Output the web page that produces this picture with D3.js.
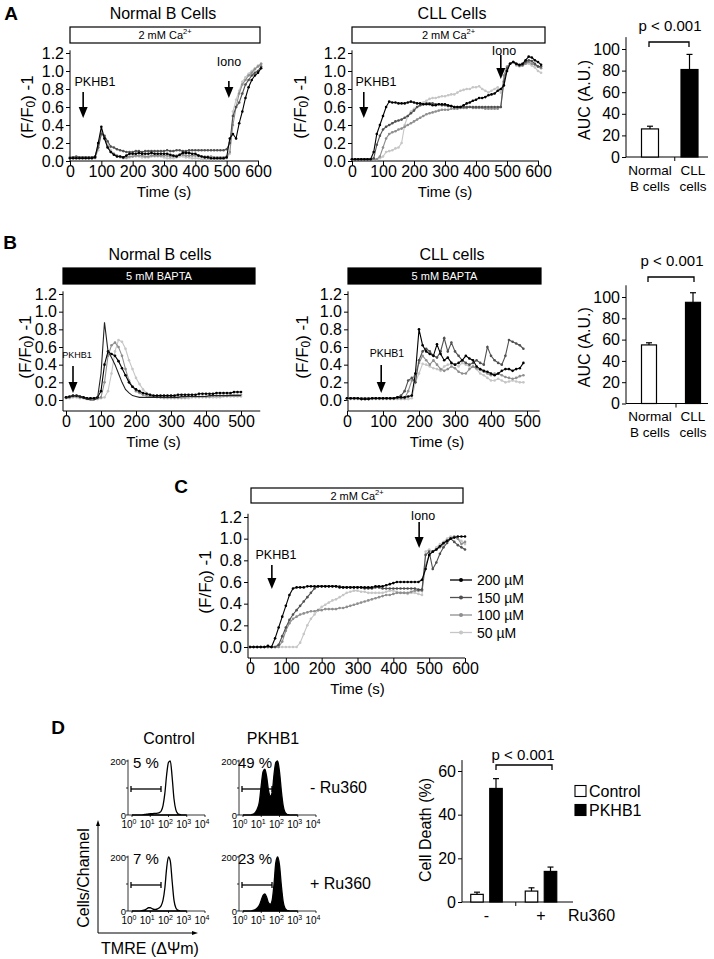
<!DOCTYPE html>
<html><head><meta charset="utf-8">
<script src="https://d3js.org/d3.v7.min.js"></script>
<style>html,body{margin:0;padding:0;background:#fff;}</style>
</head><body>
<svg id="fig" width="714" height="959" xmlns="http://www.w3.org/2000/svg"></svg>
<script>
// ================= DATA =================
const yTicksTrace = [0, 0.2, 0.4, 0.6, 0.8, 1.0, 1.2];
const xTicksA = [0, 100, 200, 300, 400, 500, 600];
const xTicksB = [0, 100, 200, 300, 400, 500];
const xTicksC = [0, 100, 200, 300, 400, 500, 600];
const aucTicks = [0, 20, 40, 60, 80, 100];
const deathTicks = [0, 20, 40, 60];

const timeA = [0,10,20,30,40,50,60,70,80,90,100,110,120,130,140,150,160,170,180,190,200,210,220,230,240,250,260,270,280,290,300,310,320,330,340,350,360,370,380,390,400,410,420,430,440,450,460,470,480,490,500,510,520,530,540,550,560,570,580,590,600,610];
const timeB = [0,10,20,30,40,50,60,70,80,90,100,110,120,130,140,150,160,170,180,190,200,210,220,230,240,250,260,270,280,290,300,310,320,330,340,350,360,370,380,390,400,410,420,430,440,450,460,470,480,490,500];
const timeC = [0,10,20,30,40,50,60,70,80,90,100,110,120,130,140,150,160,170,180,190,200,210,220,230,240,250,260,270,280,290,300,310,320,330,340,350,360,370,380,390,400,410,420,430,440,450,460,470,480,490,500,510,520,530,540,550,560,570,580,590,600];

// Panel A – Normal B cells, 2 mM Ca2+
const normalA1 = [0.03,0.03,0.03,0.03,0.03,0.03,0.03,0.03,0.04,
  0.20,0.38,0.25,0.15,0.10,0.07,0.05,0.05,0.04,0.06,
  0.08,0.08,0.08,0.09,0.08,0.08,0.08,0.09,0.08,0.08,
  0.08,0.08,0.08,0.07,0.06,0.05,0.07,0.09,0.09,0.09,
  0.08,0.08,0.06,0.05,0.04,0.04,0.03,0.03,0.03,0.03,
  0.03,0.04,0.25,0.30,0.25,0.42,0.55,0.70,0.82,0.90,
  0.95,0.98,1.03];
const normalA2 = [0.04,0.04,0.05,0.04,0.04,0.04,0.04,0.04,0.05,
  0.15,0.30,0.28,0.22,0.16,0.15,0.13,0.12,0.11,0.10,
  0.10,0.10,0.11,0.11,0.10,0.11,0.11,0.11,0.11,0.11,
  0.11,0.11,0.12,0.11,0.11,0.12,0.12,0.11,0.11,0.12,
  0.12,0.12,0.12,0.12,0.12,0.12,0.12,0.12,0.12,0.12,
  0.12,0.13,0.20,0.50,0.60,0.65,0.75,0.85,0.90,0.95,
  0.98,1.00,1.05];
const normalA3 = [0.04,0.04,0.04,0.04,0.04,0.04,0.04,0.04,0.05,
  0.18,0.33,0.25,0.16,0.10,0.08,0.06,0.05,0.04,0.04,
  0.05,0.05,0.06,0.06,0.06,0.05,0.05,0.06,0.06,0.06,
  0.06,0.06,0.06,0.05,0.05,0.06,0.07,0.07,0.06,0.06,
  0.06,0.06,0.06,0.05,0.05,0.05,0.05,0.04,0.04,0.04,
  0.04,0.05,0.10,0.40,0.60,0.75,0.85,0.90,0.95,0.98,
  1.02,1.05,1.08];
const normalA4 = [0.03,0.03,0.03,0.03,0.03,0.03,0.03,0.03,0.03,
  0.12,0.30,0.28,0.18,0.12,0.08,0.05,0.04,0.03,0.03,
  0.04,0.05,0.05,0.05,0.04,0.04,0.04,0.05,0.05,0.05,
  0.05,0.04,0.03,0.03,0.03,0.04,0.05,0.05,0.04,0.04,
  0.03,0.03,0.03,0.02,0.02,0.02,0.02,0.02,0.02,0.02,
  0.02,0.03,0.08,0.55,0.68,0.78,0.88,0.93,0.97,1.00,
  1.03,1.06,1.08];

// Panel A – CLL cells, 2 mM Ca2+
const cllA1 = [0.02,0.02,0.02,0.02,0.02,0.02,0.02,
  0.10,0.30,0.40,0.50,0.60,0.66,0.65,0.65,0.64,0.64,
  0.64,0.65,0.66,0.65,0.64,0.64,0.63,0.63,0.63,0.62,
  0.62,0.63,0.63,0.63,0.62,0.61,0.60,0.60,0.60,0.62,
  0.64,0.65,0.67,0.68,0.70,0.70,0.71,0.73,0.74,0.75,
  0.78,0.80,0.84,1.00,1.08,1.10,1.08,1.07,1.08,1.12,
  1.16,1.15,1.12,1.10,1.07];
const cllA2 = [0.02,0.02,0.02,0.02,0.02,0.02,0.02,
  0.03,0.18,0.28,0.35,0.38,0.40,0.42,0.44,0.45,0.46,
  0.48,0.50,0.53,0.56,0.60,0.62,0.63,0.64,0.64,0.64,
  0.63,0.63,0.62,0.62,0.61,0.61,0.60,0.60,0.60,0.60,
  0.60,0.60,0.60,0.60,0.60,0.60,0.60,0.60,0.60,0.60,
  0.60,0.60,0.88,1.03,1.08,1.10,1.08,1.06,1.07,1.10,
  1.12,1.11,1.08,1.05,1.05];
const cllA3 = [0.02,0.02,0.02,0.02,0.02,0.02,0.02,
  0.02,0.02,0.05,0.15,0.25,0.30,0.32,0.33,0.35,0.36,
  0.38,0.40,0.42,0.44,0.46,0.48,0.50,0.52,0.53,0.54,
  0.55,0.56,0.57,0.57,0.57,0.58,0.58,0.58,0.59,0.59,
  0.59,0.60,0.59,0.59,0.59,0.59,0.58,0.58,0.58,0.58,
  0.58,0.60,0.95,1.05,1.08,1.10,1.07,1.06,1.06,1.08,
  1.10,1.08,1.07,1.05,1.03];
const cllA4 = [0.02,0.02,0.02,0.02,0.02,0.02,0.02,
  0.02,0.02,0.03,0.05,0.10,0.11,0.12,0.14,0.15,0.20,
  0.40,0.50,0.55,0.58,0.60,0.62,0.65,0.67,0.69,0.70,
  0.70,0.71,0.72,0.72,0.73,0.74,0.74,0.76,0.78,0.79,
  0.80,0.80,0.82,0.82,0.83,0.80,0.78,0.76,0.78,0.80,
  0.82,0.76,0.90,1.00,1.08,1.10,1.06,1.05,1.06,1.08,
  1.08,1.06,1.04,1.00,0.98];

// Panel A – AUC
const aucCats = ["Normal B cells", "CLL cells"];
const aucA = [26, 81];
const aucAErr = [2.5, 14];

// Panel B – Normal B cells, 5 mM BAPTA
const normalB1 = [0.02,0.03,0.05,0.05,0.04,0.02,0.01,0.00,0.00,0.02,
  0.30,0.88,0.55,0.48,0.40,0.30,0.20,0.12,0.08,0.05,
  0.04,0.03,0.03,0.03,0.03,0.03,0.03,0.03,0.03,0.03,
  0.03,0.03,0.03,0.04,0.04,0.04,0.04,0.04,0.04,0.04,
  0.04,0.05,0.05,0.05,0.05,0.05,0.05,0.05,0.05,0.05,0.05];
const normalB2 = [0.03,0.04,0.05,0.05,0.04,0.03,0.02,0.02,0.02,0.03,
  0.10,0.40,0.55,0.52,0.50,0.44,0.36,0.28,0.20,0.15,
  0.12,0.10,0.08,0.07,0.06,0.05,0.05,0.05,0.05,0.05,
  0.05,0.05,0.06,0.06,0.06,0.06,0.06,0.06,0.07,0.07,
  0.07,0.07,0.07,0.08,0.08,0.08,0.08,0.08,0.09,0.09,0.09];
const normalB3 = [0.03,0.03,0.04,0.04,0.03,0.03,0.02,0.02,0.02,0.02,
  0.03,0.20,0.50,0.62,0.65,0.60,0.50,0.35,0.22,0.15,
  0.10,0.08,0.06,0.05,0.04,0.04,0.04,0.03,0.03,0.03,
  0.03,0.03,0.03,0.03,0.03,0.04,0.04,0.04,0.04,0.04,
  0.04,0.04,0.05,0.05,0.05,0.05,0.05,0.06,0.06,0.06,0.06];
const normalB4 = [0.02,0.02,0.03,0.03,0.02,0.02,0.01,0.01,0.01,0.01,
  0.02,0.03,0.10,0.30,0.55,0.68,0.66,0.58,0.45,0.35,
  0.25,0.18,0.12,0.08,0.06,0.04,0.03,0.03,0.02,0.02,
  0.02,0.02,0.02,0.02,0.02,0.02,0.03,0.03,0.03,0.03,
  0.03,0.03,0.03,0.03,0.03,0.04,0.04,0.04,0.04,0.04,0.04];

// Panel B – CLL cells, 5 mM BAPTA
const cllB1 = [0.02,0.02,0.02,0.02,0.01,0.01,0.01,0.02,0.02,0.02,
  0.02,0.02,0.02,0.02,0.03,0.03,0.03,0.04,0.05,0.30,
  0.80,0.62,0.55,0.52,0.50,0.63,0.52,0.45,0.48,0.42,
  0.40,0.42,0.45,0.50,0.47,0.45,0.38,0.35,0.33,0.32,
  0.30,0.28,0.30,0.33,0.35,0.35,0.33,0.35,0.36,0.42];
const cllB2 = [0.02,0.02,0.02,0.02,0.02,0.02,0.02,0.02,0.02,0.02,
  0.02,0.02,0.02,0.02,0.03,0.05,0.10,0.22,0.25,0.20,
  0.45,0.55,0.58,0.55,0.50,0.48,0.55,0.70,0.55,0.65,
  0.55,0.50,0.45,0.42,0.40,0.42,0.45,0.42,0.40,0.60,
  0.50,0.45,0.42,0.40,0.50,0.68,0.66,0.64,0.62,0.58];
const cllB3 = [0.02,0.02,0.02,0.02,0.02,0.02,0.02,0.02,0.02,0.02,
  0.02,0.02,0.02,0.02,0.02,0.02,0.02,0.10,0.22,0.30,
  0.42,0.50,0.45,0.40,0.45,0.40,0.35,0.33,0.35,0.38,
  0.36,0.32,0.30,0.30,0.35,0.38,0.36,0.34,0.32,0.30,
  0.28,0.30,0.30,0.28,0.26,0.25,0.24,0.25,0.27,0.28];
const cllB4 = [0.01,0.01,0.01,0.01,0.01,0.01,0.01,0.01,0.01,0.01,
  0.01,0.01,0.01,0.01,0.01,0.01,0.01,0.01,0.02,0.20,
  0.30,0.41,0.40,0.38,0.36,0.35,0.33,0.38,0.40,0.41,
  0.40,0.38,0.42,0.40,0.38,0.38,0.35,0.30,0.28,0.25,
  0.22,0.22,0.24,0.22,0.20,0.21,0.22,0.21,0.20,0.20];

// Panel B – AUC
const aucB = [55, 95];
const aucBErr = [2, 9];

// Panel C – dose response, 2 mM Ca2+
const doseLabels = ["200 µM", "150 µM", "100 µM", "50 µM"];
const dose200 = [0.00,0.00,0.00,0.00,0.00,0.01,0.00,0.08,0.18,0.28,
  0.38,0.48,0.54,0.55,0.55,0.55,0.56,0.56,0.56,0.56,
  0.56,0.56,0.56,0.56,0.56,0.55,0.55,0.55,0.55,0.55,
  0.55,0.55,0.55,0.55,0.55,0.56,0.56,0.56,0.57,0.58,
  0.59,0.60,0.60,0.60,0.60,0.60,0.60,0.60,0.62,0.72,
  0.85,0.88,0.90,0.93,0.96,0.98,1.00,1.01,1.02,1.02,1.02];
const dose150 = [0.00,0.00,0.00,0.00,0.00,0.00,0.00,0.00,0.02,0.10,
  0.18,0.25,0.30,0.34,0.38,0.42,0.46,0.50,0.54,0.56,
  0.56,0.56,0.56,0.56,0.56,0.56,0.55,0.55,0.55,0.55,
  0.55,0.55,0.54,0.54,0.54,0.55,0.55,0.54,0.54,0.54,
  0.54,0.54,0.54,0.54,0.54,0.54,0.54,0.53,0.53,0.85,
  0.88,0.72,0.78,0.86,0.92,0.96,1.00,0.97,0.94,0.92,0.90];
const dose100 = [0.00,0.00,0.00,0.00,0.00,0.00,0.00,0.00,0.00,0.05,
  0.15,0.22,0.26,0.28,0.30,0.31,0.32,0.33,0.33,0.34,
  0.34,0.35,0.35,0.35,0.35,0.36,0.36,0.37,0.38,0.39,
  0.40,0.41,0.42,0.43,0.44,0.45,0.46,0.47,0.48,0.48,
  0.49,0.50,0.50,0.50,0.50,0.51,0.52,0.52,0.52,0.75,
  0.85,0.88,0.90,0.92,0.95,0.98,1.00,1.02,1.00,0.95,0.97];
const dose50 = [0.00,0.00,0.00,0.00,0.00,0.00,0.00,0.00,0.00,0.00,
  0.00,0.00,0.00,0.00,0.04,0.12,0.20,0.26,0.30,0.34,
  0.37,0.39,0.41,0.43,0.44,0.46,0.48,0.50,0.51,0.52,
  0.52,0.51,0.51,0.50,0.50,0.50,0.50,0.50,0.51,0.52,
  0.52,0.51,0.50,0.50,0.49,0.50,0.50,0.49,0.48,0.88,
  0.90,0.88,0.92,0.95,0.97,1.00,1.02,1.02,1.00,0.98,0.95];

// Panel D – TMRE histograms (log10 fluorescence, counts)
const logTMRE = [0.0,0.1,0.2,0.3,0.4,0.5,0.6,0.7,0.8,0.9,1.0,1.1,1.2,1.3,1.4,1.5,1.6,1.7,1.8,1.9,2.0,2.1,2.2,2.3,2.4,2.5,2.6,2.7,2.8,2.9,3.0];
const histCtrlNoRu = [0,0,0,0,0,0,1,2,3,4,5,5,6,6,7,9,15,35,80,150,195,200,140,60,20,6,2,0,0,0,0];
const histPkNoRu   = [0,0,0,0,0,2,5,12,25,50,110,160,170,140,90,70,85,150,195,200,160,90,35,10,3,1,0,0,0,0,0];
const histCtrlRu   = [0,0,0,0,0,1,2,4,8,12,12,9,6,6,8,12,20,40,85,160,200,185,110,40,12,4,1,0,0,0,0];
const histPkRu     = [0,0,0,0,0,1,3,6,12,22,40,58,63,50,30,25,40,100,180,200,170,95,35,10,3,1,0,0,0,0,0];
const pctLabels = ["5 %", "49 %", "7 %", "23 %"];
const logTicks = [0, 1, 2, 3, 4];

// Panel D – cell death
const ruGroups = ["-", "+"];
const deathControl = [3.5, 5];
const deathControlErr = [1, 1.5];
const deathPKHB1 = [52, 14];
const deathPKHB1Err = [4.5, 2];

// ================= DRAWING =================
const FONT = "'Liberation Sans', Arial, Helvetica, sans-serif";
const svg = d3.select("#fig").attr("font-family", FONT);
const traceColors = ["#000000", "#505050", "#8e8e8e", "#c6c6c6"];

function text(g, x, y, s, size, anchor = "middle", extra = {}) {
  const t = g.append("text").attr("x", x).attr("y", y).attr("font-size", size)
    .attr("text-anchor", anchor).attr("dominant-baseline", "central").attr("fill", extra.fill || "#000")
    .text(s);
  if (extra.weight) t.attr("font-weight", extra.weight);
  if (extra.rotate) t.attr("transform", `rotate(-90,${x},${y})`);
  return t;
}
function yLabelF(g, x, y, size) {
  const t = g.append("text").attr("font-size", size).attr("text-anchor", "middle")
    .attr("transform", `translate(${x},${y}) rotate(-90)`).attr("dominant-baseline", "central");
  t.append("tspan").text("(F/F");
  t.append("tspan").attr("font-size", size * 0.7).attr("dy", 4).text("0");
  t.append("tspan").attr("dy", -4).text(") -1");
}
function arrow(g, x, y1, y2) {
  g.append("line").attr("x1", x).attr("x2", x).attr("y1", y1).attr("y2", y2 - 8)
    .attr("stroke", "#000").attr("stroke-width", 1.6);
  g.append("path").attr("d", `M${x - 4.5},${y2 - 11} L${x + 4.5},${y2 - 11} L${x},${y2} Z`).attr("fill", "#000");
}
function header(g, x1, x2, y1, y2, dark, label, sup) {
  g.append("rect").attr("x", x1).attr("y", y1).attr("width", x2 - x1).attr("height", y2 - y1)
    .attr("fill", dark ? "#000" : "#fff").attr("stroke", "#000").attr("stroke-width", 1.2);
  const t = g.append("text").attr("x", (x1 + x2) / 2).attr("y", (y1 + y2) / 2 + 4).attr("font-size", 11)
    .attr("text-anchor", "middle").attr("fill", dark ? "#fff" : "#000");
  t.append("tspan").text(label);
  if (sup) t.append("tspan").attr("font-size", 7.5).attr("dy", -5).text(sup);
}

function tracePanel(o) {
  const g = svg.append("g");
  const x = d3.scaleLinear().domain([0, o.xmax]).range([o.x0, o.x1]);
  const y = d3.scaleLinear().domain([0, 1.2]).range([o.yBot, o.yTop]);
  const ya = g.append("g").attr("transform", `translate(${o.yAxisX},0)`)
    .call(d3.axisLeft(y).tickValues(yTicksTrace).tickFormat(d3.format(".1f")).tickSize(4).tickPadding(2));
  ya.select(".domain").remove();
  ya.attr("font-family", FONT).attr("font-size", 16);
  g.append("line").attr("x1", o.yAxisX).attr("x2", o.yAxisX).attr("y1", o.axisY).attr("y2", y(1.23)).attr("stroke", "#000");
  const xa = g.append("g").attr("transform", `translate(0,${o.axisY})`)
    .call(d3.axisBottom(x).tickValues(o.xTicks).tickSize(4).tickPadding(1));
  xa.select(".domain").remove();
  xa.attr("font-family", FONT).attr("font-size", 16);
  g.append("line").attr("x1", o.yAxisX).attr("x2", x(o.xEnd)).attr("y1", o.axisY).attr("y2", o.axisY).attr("stroke", "#000");
  text(g, (o.x0 + x(o.xTicks[o.xTicks.length - 1])) / 2, o.axisY + 30, "Time (s)", 15);
  yLabelF(g, o.yLabelX, (o.yTop + o.yBot) / 2, 17);
  const line = d3.line().x(d => x(d[0])).y(d => y(d[1]));
  o.series.forEach((s, i) => {
    const pts = d3.zip(s.t, s.v);
    const col = s.color || traceColors[i];
    g.append("path").datum(pts).attr("d", line).attr("fill", "none").attr("stroke", col).attr("stroke-width", 1.1);
    if (s.marker !== false) {
      g.selectAll(null).data(pts).join("circle").attr("cx", d => x(d[0])).attr("cy", d => y(d[1]))
        .attr("r", 1.3).attr("fill", col);
    }
  });
  return { g, x, y };
}

// ---------- Panel A ----------
text(svg, 11, 13, "A", 19, "middle", { weight: "bold" });
text(svg, 163, 13, "Normal B Cells", 16);
text(svg, 452, 13, "CLL Cells", 16);
header(svg, 70, 260, 27, 43, false, "2 mM Ca", "2+");
header(svg, 352, 545, 27, 43, false, "2 mM Ca", "2+");
const revCols = [traceColors[3], traceColors[2], traceColors[1], traceColors[0]];
const pA1 = tracePanel({ x0: 70, x1: 258, xmax: 600, yBot: 161, yTop: 53, yAxisX: 70, axisY: 161, xEnd: 603,
  xTicks: xTicksA, yLabelX: 27,
  series: [normalA4, normalA3, normalA2, normalA1].map((v, i) => ({ t: timeA, v, color: revCols[i] })) });
arrow(svg, pA1.x(42), 92, 118);
text(svg, 95, 82, "PKHB1", 12.5);
arrow(svg, pA1.x(507), 81, 98);
text(svg, 229, 62, "Iono", 12.5);

const pA2 = tracePanel({ x0: 352, x1: 538, xmax: 600, yBot: 161, yTop: 53, yAxisX: 352, axisY: 161, xEnd: 603,
  xTicks: xTicksA, yLabelX: 300,
  series: [cllA4, cllA3, cllA2, cllA1].map((v, i) => ({ t: timeA, v, color: revCols[i] })) });
arrow(svg, pA2.x(38), 92, 118);
text(svg, 376, 82, "PKHB1", 12.5);
arrow(svg, pA2.x(480), 55, 79);
text(svg, 504, 51, "Iono", 12.5);

// ---------- AUC bar panels ----------
function aucPanel(o) {
  const g = svg.append("g");
  const y = d3.scaleLinear().domain([0, 100]).range([o.yBot, o.yTop]);
  const x = d3.scalePoint().domain(aucCats).range([o.c0, o.c1]);
  const ya = g.append("g").attr("transform", `translate(${o.yAxisX},0)`)
    .call(d3.axisLeft(y).tickValues(aucTicks).tickSize(4).tickPadding(2));
  ya.select(".domain").remove();
  ya.attr("font-family", FONT).attr("font-size", 16);
  g.append("line").attr("x1", o.yAxisX).attr("x2", o.yAxisX).attr("y1", y(0)).attr("y2", y(111)).attr("stroke", "#000");
  g.append("line").attr("x1", o.yAxisX).attr("x2", o.xEnd).attr("y1", y(0)).attr("y2", y(0)).attr("stroke", "#000");
  const mid = (x(aucCats[0]) + x(aucCats[1])) / 2 + 5;
  g.append("line").attr("x1", mid).attr("x2", mid).attr("y1", y(0)).attr("y2", y(0) + 4).attr("stroke", "#000");
  const bw = o.bw;
  aucCats.forEach((c, i) => {
    const cx = x(c);
    g.append("rect").attr("x", cx - bw / 2).attr("y", y(o.vals[i])).attr("width", bw).attr("height", y(0) - y(o.vals[i]))
      .attr("fill", i === 0 ? "#fff" : "#000").attr("stroke", "#000").attr("stroke-width", 1.2);
    g.append("line").attr("x1", cx).attr("x2", cx).attr("y1", y(o.vals[i])).attr("y2", y(o.vals[i] + o.errs[i])).attr("stroke", "#000").attr("stroke-width", 1.2);
    g.append("line").attr("x1", cx - 3).attr("x2", cx + 3).attr("y1", y(o.vals[i] + o.errs[i])).attr("y2", y(o.vals[i] + o.errs[i])).attr("stroke", "#000").attr("stroke-width", 1.2);
  });
  text(g, 650, o.yBot + 13, "Normal", 13.5);
  text(g, 650, o.yBot + 29, "B cells", 13.5);
  text(g, 693, o.yBot + 13, "CLL", 13.5);
  text(g, 693, o.yBot + 29, "cells", 13.5);
  g.append("path").attr("d", `M${o.br0},${o.brY + 5} V${o.brY} H${o.br1} V${o.brY + 5}`).attr("fill", "none").attr("stroke", "#000").attr("stroke-width", 1.3);
  text(g, (o.br0 + o.br1) / 2 + 1, o.brY - 17, "p < 0.001", 15);
  text(g, o.labelX, (o.yBot + o.yTop) / 2 - 3, "AUC (A.U.)", 16, "middle", { rotate: true });
}
aucPanel({ yBot: 157, yTop: 49, yAxisX: 626, xEnd: 708, c0: 650, c1: 689.5, bw: 17, vals: aucA, errs: aucAErr,
  br0: 649, br1: 689, brY: 42, labelX: 584 });

// ---------- Panel B ----------
text(svg, 10, 242, "B", 19, "middle", { weight: "bold" });
text(svg, 160, 254, "Normal B cells", 16);
text(svg, 452, 254, "CLL cells", 16);
header(svg, 63, 255, 268, 284, true, "5 mM BAPTA");
header(svg, 348, 541, 268, 284, true, "5 mM BAPTA");
const pB1 = tracePanel({ x0: 66, x1: 241, xmax: 500, yBot: 400, yTop: 294, yAxisX: 63, axisY: 411, xEnd: 555,
  xTicks: xTicksB, yLabelX: 25,
  series: [
    { t: timeB, v: normalB4, color: traceColors[3] },
    { t: timeB, v: normalB3, color: traceColors[2] },
    { t: timeB, v: normalB2, color: traceColors[0] },
    { t: timeB, v: normalB1, color: "#222222", marker: false }] });
arrow(svg, pB1.x(20), 366, 393);
text(svg, 77, 355, "PKHB1", 9);

const pB2 = tracePanel({ x0: 347, x1: 527, xmax: 500, yBot: 400, yTop: 294, yAxisX: 348, axisY: 411, xEnd: 535,
  xTicks: xTicksB, yLabelX: 302,
  series: [
    { t: timeB, v: cllB4, color: traceColors[3] },
    { t: timeB, v: cllB3, color: traceColors[2] },
    { t: timeB, v: cllB2, color: traceColors[1] },
    { t: timeB, v: cllB1, color: traceColors[0] }] });
arrow(svg, pB2.x(95), 365, 393);
text(svg, 387, 353, "PKHB1", 10.5);

aucPanel({ yBot: 403.5, yTop: 297, yAxisX: 626, xEnd: 708, c0: 649, c1: 693, bw: 15, vals: aucB, errs: aucBErr,
  br0: 648, br1: 694, brY: 277, labelX: 584 });

// ---------- Panel C ----------
text(svg, 181, 486, "C", 19, "middle", { weight: "bold" });
header(svg, 251, 463, 488, 503, false, "2 mM Ca", "2+");
const doseSeries = [dose50, dose100, dose150, dose200];
const pC = tracePanel({ x0: 250, x1: 465, xmax: 600, yBot: 647, yTop: 517, yAxisX: 248, axisY: 658, xEnd: 600,
  xTicks: xTicksC, yLabelX: 205,
  series: doseSeries.map((v, i) => ({ t: timeC, v, color: revCols[i] })) });
arrow(svg, pC.x(61), 565, 589);
text(svg, 276, 555, "PKHB1", 12.5);
arrow(svg, pC.x(472), 522, 548);
text(svg, 423, 516, "Iono", 12.5);
doseLabels.forEach((lab, i) => {
  const ly = 580 + i * 17.5;
  svg.append("line").attr("x1", 450).attr("x2", 472).attr("y1", ly).attr("y2", ly).attr("stroke", traceColors[i]).attr("stroke-width", 1.3);
  svg.append("circle").attr("cx", 461).attr("cy", ly).attr("r", 2).attr("fill", traceColors[i]);
  text(svg, 477, ly, lab, 14, "start");
});

// ---------- Panel D histograms ----------
text(svg, 58, 727, "D", 19, "middle", { weight: "bold" });
text(svg, 169, 738, "Control", 16);
text(svg, 273, 738, "PKHB1", 16);
function histPanel(o) {
  const g = svg.append("g");
  const x = d3.scaleLinear().domain([0, 4]).range([o.x0, o.x0 + 73]);
  const y = d3.scaleLinear().domain([0, 200]).range([o.yBot, o.yBot - 54]);
  const area = d3.area().x(d => x(d[0])).y0(y(0)).y1(d => y(d[1])).curve(d3.curveMonotoneX);
  const pts = d3.zip(logTMRE, o.counts);
  g.append("path").datum(pts).attr("d", area).attr("fill", o.filled ? "#000" : "#fff")
    .attr("stroke", "#000").attr("stroke-width", 1.3);
  const ax = o.x0 - 4;
  g.append("line").attr("x1", ax).attr("x2", ax).attr("y1", y(0)).attr("y2", y(205)).attr("stroke", "#000").attr("stroke-width", 0.8);
  g.append("line").attr("x1", ax).attr("x2", x(4)).attr("y1", y(0)).attr("y2", y(0)).attr("stroke", "#000").attr("stroke-width", 0.8);
  [0, 100, 200].forEach(v => g.append("line").attr("x1", ax - 2).attr("x2", ax).attr("y1", y(v)).attr("y2", y(v)).attr("stroke", "#000").attr("stroke-width", 0.8));
  text(g, ax - 2, y(200), "200", 9.5, "end");
  text(g, ax - 2, y(0), "0", 9.5, "end");
  logTicks.forEach(d => {
    g.append("line").attr("x1", x(d)).attr("x2", x(d)).attr("y1", y(0)).attr("y2", y(0) + 2).attr("stroke", "#000").attr("stroke-width", 0.8);
    const t = g.append("text").attr("x", x(d) - 3).attr("y", y(0) + 13).attr("font-size", 10).attr("text-anchor", "middle");
    t.append("tspan").text("10");
    t.append("tspan").attr("font-size", 7).attr("dy", -4).text(String(d));
  });
  const gy = (y(0) + y(200)) / 2 + 1;
  g.append("line").attr("x1", ax + 3).attr("x2", ax + 33).attr("y1", gy).attr("y2", gy).attr("stroke", "#000").attr("stroke-width", 1.3);
  [ax + 3, ax + 33].forEach(v => g.append("line").attr("x1", v).attr("x2", v).attr("y1", gy - 3).attr("y2", gy + 3).attr("stroke", "#000").attr("stroke-width", 1.3));
  text(g, o.pctX, y(200) + 1, o.pct, 15);
}
histPanel({ x0: 132, yBot: 815, counts: histCtrlNoRu, filled: false, pct: pctLabels[0], pctX: 146 });
histPanel({ x0: 243, yBot: 815, counts: histPkNoRu, filled: true, pct: pctLabels[1], pctX: 255 });
histPanel({ x0: 132, yBot: 911, counts: histCtrlRu, filled: false, pct: pctLabels[2], pctX: 146 });
histPanel({ x0: 243, yBot: 911, counts: histPkRu, filled: true, pct: pctLabels[3], pctX: 255 });
text(svg, 310, 787, "- Ru360", 16, "start");
text(svg, 310, 883, "+ Ru360", 16, "start");
svg.append("line").attr("x1", 98).attr("x2", 98).attr("y1", 933).attr("y2", 823).attr("stroke", "#000").attr("stroke-width", 1);
svg.append("path").attr("d", "M96,826 L98,820 L100,826 Z").attr("fill", "#000");
svg.append("line").attr("x1", 98).attr("x2", 195).attr("y1", 933).attr("y2", 933).attr("stroke", "#000").attr("stroke-width", 1);
svg.append("path").attr("d", "M192,931 L198,933 L192,935 Z").attr("fill", "#000");
text(svg, 83, 878, "Cells/Channel", 16, "middle", { rotate: true });
text(svg, 150, 948, "TMRE (ΔΨm)", 16);

// ---------- Panel D bar chart ----------
(function () {
  const g = svg.append("g");
  const y = d3.scaleLinear().domain([0, 60]).range([902, 771]);
  const grp = d3.scalePoint().domain(ruGroups).range([486.5, 541]);
  const ya = g.append("g").attr("transform", "translate(462,0)")
    .call(d3.axisLeft(y).tickValues(deathTicks).tickSize(4).tickPadding(2));
  ya.select(".domain").remove();
  ya.attr("font-family", FONT).attr("font-size", 16);
  g.append("line").attr("x1", 462).attr("x2", 462).attr("y1", y(0)).attr("y2", y(65)).attr("stroke", "#000");
  g.append("line").attr("x1", 462).attr("x2", 573).attr("y1", y(0)).attr("y2", y(0)).attr("stroke", "#000");
  const midT = (grp("-") + grp("+")) / 2 + 2;
  g.append("line").attr("x1", midT).attr("x2", midT).attr("y1", y(0)).attr("y2", y(0) + 4).attr("stroke", "#000");
  const bw = 12.5, off = 9.5;
  ruGroups.forEach((gname, i) => {
    [[deathControl, deathControlErr, "#fff", -off], [deathPKHB1, deathPKHB1Err, "#000", off]].forEach(([vals, errs, fill, dx]) => {
      const cx = grp(gname) + dx, v = vals[i], e = errs[i];
      g.append("rect").attr("x", cx - bw / 2).attr("y", y(v)).attr("width", bw).attr("height", y(0) - y(v))
        .attr("fill", fill).attr("stroke", "#000").attr("stroke-width", 1.2);
      g.append("line").attr("x1", cx).attr("x2", cx).attr("y1", y(v)).attr("y2", y(v + e)).attr("stroke", "#000").attr("stroke-width", 1.2);
      g.append("line").attr("x1", cx - 3).attr("x2", cx + 3).attr("y1", y(v + e)).attr("y2", y(v + e)).attr("stroke", "#000").attr("stroke-width", 1.2);
    });
    text(g, grp(gname), 915, gname, 16);
  });
  text(g, 568, 915, "Ru360", 16, "start");
  g.append("path").attr("d", "M496,770 V765 H552 V770").attr("fill", "none").attr("stroke", "#000").attr("stroke-width", 1.3);
  text(g, 523, 754, "p < 0.001", 15);
  text(g, 425, 830, "Cell Death (%)", 16, "middle", { rotate: true });
  [["Control", "#fff", 791], ["PKHB1", "#000", 810]].forEach(([lab, fill, ly]) => {
    g.append("rect").attr("x", 575).attr("y", ly - 5.5).attr("width", 11).attr("height", 11).attr("fill", fill).attr("stroke", "#000").attr("stroke-width", 1.1);
    text(g, 589, ly, lab, 16, "start");
  });
})();
</script>
</body></html>
